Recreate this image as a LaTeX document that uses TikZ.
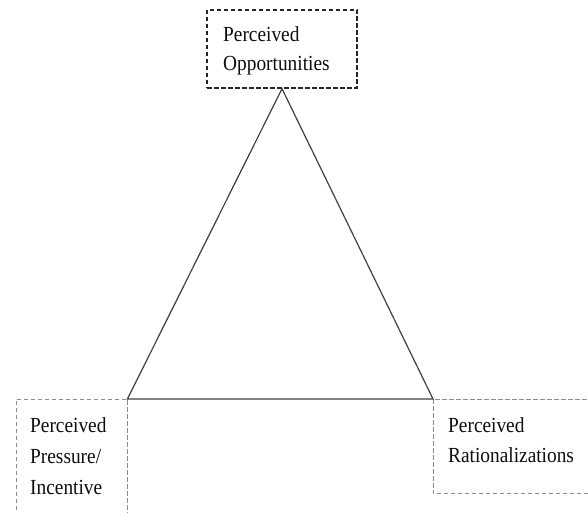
\documentclass[tikz,border=0pt]{standalone}
\usepackage{fontspec}
\setmainfont{Liberation Serif}[FakeStretch=0.9]
\begin{document}
\begin{tikzpicture}[x=1pt,y=-1pt,
  topbox/.style={draw=black!85,line width=1.4pt,dash pattern=on 4.5pt off 2.5pt,minimum width=150pt,minimum height=78pt,inner sep=0pt},
  sidebox/.style={draw=none,inner sep=0pt},
  sideline/.style={draw=black!45,line width=1pt,dash pattern=on 4.5pt off 2.5pt},
  lbl/.style={anchor=north west,align=left,inner sep=0pt,text=black!95,font=\fontsize{21.5}{29.5}\selectfont},
  edge/.style={draw=black!75,line width=1.2pt}]
\useasboundingbox[fill=white] (0,0) rectangle (588,513);
\clip (0,0) rectangle (588,513);
\node[topbox] (top) at (282,49) {};
\node[sidebox,minimum width=111pt,minimum height=118pt,anchor=north west] (left) at (16,399) {};
\node[sidebox,minimum width=162pt,minimum height=94pt,anchor=north west] (right) at (433,399) {};
\draw[sideline] (left.south west) -- (left.north west) -- (left.north east) -- (left.south east);
\draw[sideline] (right.south east) -- (right.south west) -- (right.north west) -- (right.north east);
\node[lbl] (toptxt) at (223,26) {Perceived\\Opportunities};
\node[lbl,font=\fontsize{21.5}{31}\selectfont] (lefttxt) at (30,417) {Perceived\\Pressure/\\Incentive};
\node[lbl,font=\fontsize{21.5}{30}\selectfont] (righttxt) at (448,417) {Perceived\\Rationalizations};
\draw[edge] (top.south) -- (left.north east) -- (right.north west) -- cycle;
\end{tikzpicture}
\end{document}
